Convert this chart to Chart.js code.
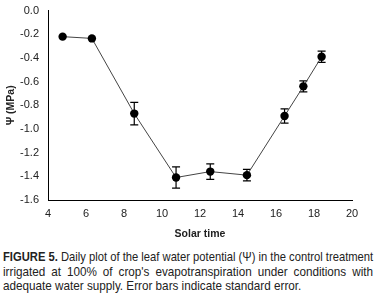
<!DOCTYPE html>
<html>
<head>
<meta charset="utf-8">
<script src="https://cdn.jsdelivr.net/npm/chart.js@4"></script>
<style>
  body { margin: 0; width: 377px; height: 300px; background: #fff; overflow: hidden; }
  #wrap { position: relative; width: 377px; height: 240px; }
  #caption { position: absolute; left: 3px; top: 250px; width: 370px; }
  #caption div {
    transform-origin: 0 0;
    font-family: 'Liberation Sans', Arial, sans-serif;
    font-size: 13px; line-height: 14.5px; height: 14.5px; color: #222;
    text-align: justify; text-align-last: justify; white-space: nowrap;
  }
  #caption div.last { text-align-last: left; }
  #caption b { font-weight: bold; }
</style>
</head>
<body>
<div id="wrap"><canvas id="chart" width="377" height="240"></canvas></div>
<div id="caption">
  <div><span><b>FIGURE 5.</b> Daily plot of the leaf water potential (&Psi;) in the control treatment</span></div>
  <div><span>irrigated at 100% of crop's evapotranspiration under conditions with</span></div>
  <div class="last"><span>adequate water supply. Error bars indicate standard error.</span></div>
</div>
<script>
// solar time (h) and leaf water potential (MPa)
const solarTime = [4.77, 6.31, 8.54, 10.74, 12.54, 14.47, 16.45, 17.44, 18.4];
const psiValues = [-0.22, -0.235, -0.87, -1.41, -1.36, -1.39, -0.89, -0.64, -0.39];
const stdError  = [0, 0, 0.095, 0.09, 0.065, 0.048, 0.06, 0.047, 0.048];

const xTicks = [4, 6, 8, 10, 12, 14, 16, 18, 20];
const yTicks = [0, -0.2, -0.4, -0.6, -0.8, -1.0, -1.2, -1.4, -1.6];

const points = solarTime.map((t, i) => ({ x: t, y: psiValues[i] }));

// squeeze caption lines like the narrow print font
document.querySelectorAll('#caption div').forEach(div => {
  const w = div.firstElementChild.offsetWidth;
  const s = Math.min(0.9, 370 / w);
  div.style.width = (370 / s) + 'px';
  div.style.transform = 'scaleX(' + s + ')';
});

// draw error bars with caps
const errorBars = {
  id: 'errorBars',
  beforeDatasetsDraw(chart) {
    const { ctx, scales: { x, y } } = chart;
    ctx.save();
    ctx.strokeStyle = '#000';
    ctx.lineWidth = 1.2;
    points.forEach((p, i) => {
      const e = stdError[i];
      if (!e) return;
      const px = x.getPixelForValue(p.x);
      const top = y.getPixelForValue(p.y + e);
      const bot = y.getPixelForValue(p.y - e);
      ctx.beginPath();
      ctx.moveTo(px, top); ctx.lineTo(px, bot);
      ctx.moveTo(px - 4, top); ctx.lineTo(px + 4, top);
      ctx.moveTo(px - 4, bot); ctx.lineTo(px + 4, bot);
      ctx.stroke();
    });
    ctx.restore();
  }
};

const tickFont = { family: 'Liberation Sans, Arial, sans-serif', size: 11 };
const titleFont = { family: 'Liberation Sans, Arial, sans-serif', size: 10.5, weight: 'bold' };

new Chart(document.getElementById('chart'), {
  type: 'scatter',
  data: {
    datasets: [{
      data: points,
      showLine: true,
      borderColor: '#444',
      borderWidth: 1,
      pointRadius: 4.2,
      pointBackgroundColor: '#000',
      pointBorderColor: '#000',
      pointBorderWidth: 0
    }]
  },
  options: {
    responsive: false,
    animation: false,
    layout: { padding: { top: 7, right: 25, left: 0, bottom: 0 } },
    plugins: { legend: { display: false }, tooltip: { enabled: false } },
    scales: {
      x: {
        type: 'linear',
        min: 4, max: 20,
        afterBuildTicks: s => { s.ticks = xTicks.map(v => ({ value: v })); },
        afterFit: s => { s.height = 40; },
        grid: { display: false, drawTicks: true, tickLength: 5, tickColor: '#000' },
        border: { color: '#000', width: 1 },
        ticks: { color: '#222', font: tickFont, padding: 2, maxRotation: 0 },
        title: {
          display: true, text: 'Solar time', color: '#222', font: titleFont,
          padding: { top: 3, bottom: 0 }
        }
      },
      y: {
        min: -1.6, max: 0,
        afterBuildTicks: s => { s.ticks = yTicks.map(v => ({ value: v })); },
        afterFit: s => { s.width = 48; },
        grid: { display: false, drawTicks: true, tickLength: 5, tickColor: '#000' },
        border: { color: '#000', width: 1 },
        ticks: { color: '#222', font: tickFont, padding: 4, callback: v => v.toFixed(1) },
        title: {
          display: true, text: 'Ψ (MPa)', color: '#222', font: titleFont,
          padding: { top: 5, bottom: 0 }
        }
      }
    }
  },
  plugins: [errorBars]
});
</script>
</body>
</html>
